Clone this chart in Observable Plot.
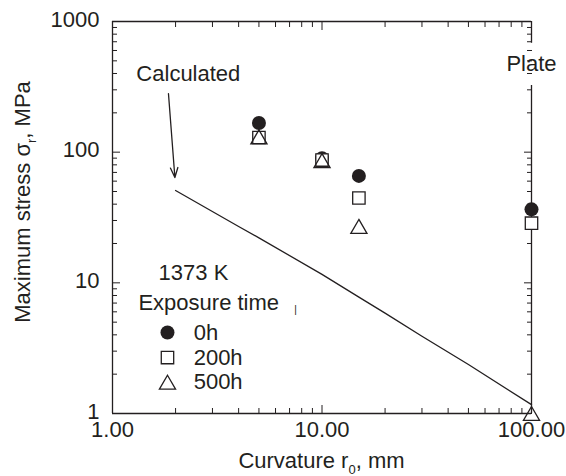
<!DOCTYPE html>
<html><head><meta charset="utf-8">
<script src="https://cdn.jsdelivr.net/npm/d3@7"></script>
<script src="https://cdn.jsdelivr.net/npm/@observablehq/plot@0.6"></script>
<style>body{margin:0;background:#fff}</style>
</head><body><div id="chart"></div>
<script>
const ink = "#231f20";
const font = "'Liberation Sans', Arial, Helvetica, sans-serif";

// measured series
const radius = [5, 10, 15, 100];
const stress0h = [167, 90, 65.8, 36.5];
const stress200h = [129.5, 87, 44.6, 28.6];
const stress500h = [131, 86, 27, 1];

// calculated curve
const calcRadius = [2, 4, 5, 10, 15, 20, 30, 50, 100];
const calcStress = [50.9, 27, 22.1, 11.6, 7.77, 5.86, 3.9, 2.37, 1.17];

// ticks
const majorX = [1, 10, 100];
const majorXLabels = ["1.00", "10.00", "100.00"];
const minorX = [2,3,4,5,6,7,8,9,20,30,40,50,60,70,80,90];
const majorY = [1, 10, 100, 1000];
const majorYLabels = ["1", "10", "100", "1000"];
const minorY = [2,3,4,5,6,7,8,9,20,30,40,50,60,70,80,90,200,300,400,500,600,700,800,900];

// right frame is broken by the "Plate" label
const rightFrame = [{x: 100, y1: 1000, y2: 682}, {x: 100, y1: 324, y2: 1}];

// legend (data coordinates inside the frame)
const legendLabels = ["0h", "200h", "500h"];
const legendY = [4.17, 2.68, 1.735];
const legendMarkX = 1.83;
const legendTextX = 2.44;

// annotations
const notesStart = [
  {x: 1.30, y: 398, text: "Calculated"},
  {x: 1.66, y: 11.8, text: "1373 K"},
  {x: 1.33, y: 7.01, text: "Exposure time"}
];
const notesMiddle = [{x: 100, y: 477, text: "Plate"}];
const cursorMark = [{x: 7.47, y: 6.17, text: "|"}];
const arrow = [{x1: 1.85, y1: 280, x2: 1.985, y2: 64}];

const W = 566, H = 476, ML = 112, MR = 35, MT = 21, MB = 63;
const fs = 22;
const fmtX = d => majorXLabels[majorX.indexOf(d)];
const fmtY = d => majorYLabels[majorY.indexOf(d)];

const plot = Plot.plot({
  width: W, height: H,
  marginLeft: ML, marginRight: MR, marginTop: MT, marginBottom: MB,
  style: {fontFamily: font, fontSize: fs + "px", color: ink, background: "#fff", overflow: "visible"},
  x: {type: "log", domain: [1, 100]},
  y: {type: "log", domain: [1, 1000]},
  marks: [
    // frame
    Plot.ruleX([1], {stroke: ink, strokeWidth: 1.3}),
    Plot.ruleY([1, 1000], {stroke: ink, strokeWidth: 1.3}),
    Plot.ruleX(rightFrame, {x: "x", y1: "y1", y2: "y2", stroke: ink, strokeWidth: 1.3}),
    // inward ticks
    Plot.axisX({anchor: "bottom", ticks: majorX, tickSize: -8, tickFormat: () => "", label: null, stroke: ink}),
    Plot.axisX({anchor: "bottom", ticks: minorX, tickSize: -5, tickFormat: () => "", label: null, stroke: ink}),
    Plot.axisX({anchor: "top", ticks: majorX, tickSize: -8, tickFormat: () => "", label: null, stroke: ink}),
    Plot.axisX({anchor: "top", ticks: minorX, tickSize: -5, tickFormat: () => "", label: null, stroke: ink}),
    Plot.axisY({anchor: "left", ticks: majorY, tickSize: -8, tickFormat: () => "", label: null, stroke: ink}),
    Plot.axisY({anchor: "left", ticks: minorY, tickSize: -5, tickFormat: () => "", label: null, stroke: ink}),
    Plot.axisY({anchor: "right", ticks: majorY, tickSize: -8, tickFormat: () => "", label: null, stroke: ink}),
    Plot.axisY({anchor: "right", ticks: minorY, tickSize: -5, tickFormat: () => "", label: null, stroke: ink}),
    // tick labels
    Plot.axisX({anchor: "bottom", ticks: majorX, tickSize: 0, tickPadding: 8, tickFormat: fmtX, label: null, fontSize: fs, fill: ink}),
    Plot.axisY({anchor: "left", ticks: majorY, tickSize: 0, tickPadding: 13, dy: -2, tickFormat: fmtY, label: null, fontSize: fs, fill: ink}),
    // calculated line + arrow
    Plot.line(calcRadius, {x: d => d, y: (d, i) => calcStress[i], stroke: ink, strokeWidth: 1.3}),
    Plot.arrow(arrow, {x1: "x1", y1: "y1", x2: "x2", y2: "y2", stroke: ink, strokeWidth: 1.3, headLength: 12, headAngle: 42}),
    // data
    Plot.dot(radius, {x: d => d, y: (d, i) => stress0h[i], symbol: "circle", fill: ink, r: 7}),
    Plot.dot(radius, {x: d => d, y: (d, i) => stress200h[i], symbol: "square", fill: "white", stroke: ink, strokeWidth: 1.3, r: 7}),
    Plot.dot(radius, {x: d => d, y: (d, i) => stress500h[i], symbol: "triangle", fill: "none", stroke: ink, strokeWidth: 1.3, r: 6, dy: 2.3}),
    // legend
    Plot.dot([legendY[0]], {x: () => legendMarkX, y: d => d, symbol: "circle", fill: ink, r: 7}),
    Plot.dot([legendY[1]], {x: () => legendMarkX, y: d => d, symbol: "square", fill: "white", stroke: ink, strokeWidth: 1.3, r: 7}),
    Plot.dot([legendY[2]], {x: () => legendMarkX, y: d => d, symbol: "triangle", fill: "none", stroke: ink, strokeWidth: 1.3, r: 6, dy: 2.3}),
    Plot.text(legendLabels, {x: () => legendTextX, y: (d, i) => legendY[i], text: d => d, textAnchor: "start", fontSize: fs, fill: ink}),
    // annotations
    Plot.text(notesStart, {x: "x", y: "y", text: "text", textAnchor: "start", fontSize: fs, fill: ink}),
    Plot.text(notesMiddle, {x: "x", y: "y", text: "text", textAnchor: "middle", fontSize: fs, fill: ink}),
    Plot.text(cursorMark, {x: "x", y: "y", text: "text", fontSize: 10, fill: ink})
  ]
});

// axis titles with subscripts
const svg = d3.select(plot);
const cx = (ML + (W - MR)) / 2;
const tx = svg.append("text")
  .attr("x", cx).attr("y", 468)
  .attr("text-anchor", "middle")
  .attr("font-family", font).attr("font-size", fs).attr("fill", ink);
tx.append("tspan").text("Curvature r");
tx.append("tspan").attr("font-size", 13).attr("dy", 6).text("0");
tx.append("tspan").attr("dy", -6).text(", mm");

const ty = svg.append("text")
  .attr("transform", `translate(30,202) rotate(-90)`)
  .attr("text-anchor", "middle")
  .attr("font-family", font).attr("font-size", fs).attr("fill", ink);
ty.append("tspan").text("Maximum stress σ");
ty.append("tspan").attr("font-size", 13).attr("dy", 6).text("r");
ty.append("tspan").attr("dy", -6).text(", MPa");

document.getElementById("chart").appendChild(plot);
</script>
</body></html>
